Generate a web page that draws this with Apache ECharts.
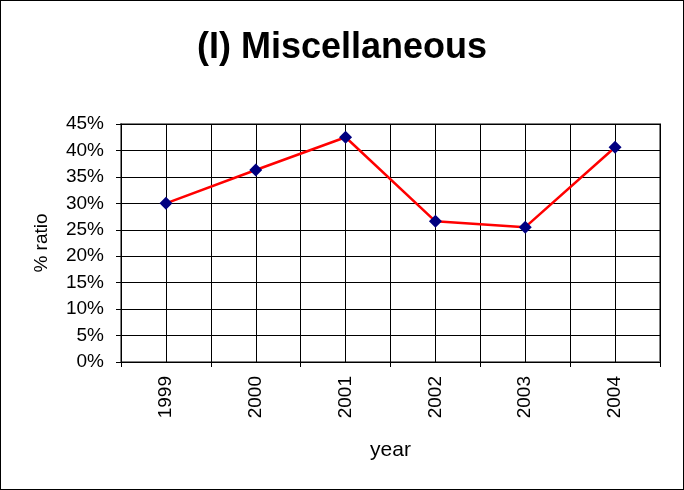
<!DOCTYPE html>
<html>
<head>
<meta charset="utf-8">
<script src="https://cdn.jsdelivr.net/npm/echarts@6/dist/echarts.min.js"></script>
<style>
  html, body { margin: 0; padding: 0; background: #fff; }
  #chart { width: 682px; height: 488px; border: 1px solid #000; }
</style>
</head>
<body>
<div id="chart"></div>
<script>
// data
var years = ['1999', '2000', '2001', '2002', '2003', '2004'];
var ratio = [30.0, 36.3, 42.5, 26.6, 25.5, 40.6];
var yTicks = { min: 0, max: 45, step: 5 };

var chart = echarts.init(document.getElementById('chart'));
var font = 'Liberation Sans, Arial, sans-serif';

chart.setOption({
  animation: false,
  title: {
    text: '(I) Miscellaneous',
    left: 'center',
    top: 24,
    textStyle: { fontFamily: font, fontSize: 36, fontWeight: 'bold', color: '#000' }
  },
  grid: { left: 120, right: 23, top: 123, bottom: 127, show: true, borderColor: '#808080', borderWidth: 2 },
  xAxis: [{
    type: 'category',
    data: years,
    boundaryGap: true,
    name: 'year',
    nameLocation: 'middle',
    nameGap: 78,
    nameTextStyle: { fontFamily: font, fontSize: 21, color: '#000' },
    axisLine: { lineStyle: { color: '#000', width: 1 } },
    axisTick: { show: true, length: 5, lineStyle: { color: '#000' } },
    axisLabel: { rotate: 90, margin: 14, fontFamily: font, fontSize: 19, color: '#000' },
    splitLine: { show: false }
  }, {
    // helper axis: vertical grid every half category
    type: 'value',
    position: 'top',
    min: 0, max: 12, interval: 1,
    axisLine: { show: false },
    axisTick: { show: false },
    axisLabel: { show: false },
    splitLine: { show: true, lineStyle: { color: '#000', width: 1 } }
  }],
  yAxis: {
    type: 'value',
    min: yTicks.min,
    max: yTicks.max,
    interval: yTicks.step,
    name: '% ratio',
    nameLocation: 'middle',
    nameGap: 70,
    nameTextStyle: { fontFamily: font, fontSize: 19, color: '#000' },
    axisLine: { show: true, lineStyle: { color: '#000', width: 1 } },
    axisTick: { show: true, length: 5, lineStyle: { color: '#000' } },
    axisLabel: { margin: 17, fontFamily: font, fontSize: 19, color: '#000', formatter: '{value}%' },
    splitLine: { show: true, lineStyle: { color: '#000', width: 1 } }
  },
  series: [{
    type: 'line',
    data: ratio,
    xAxisIndex: 0,
    symbol: 'diamond',
    symbolSize: 13,
    itemStyle: { color: '#000080' },
    lineStyle: { color: '#ff0000', width: 2.5 }
  }]
});
</script>
</body>
</html>
